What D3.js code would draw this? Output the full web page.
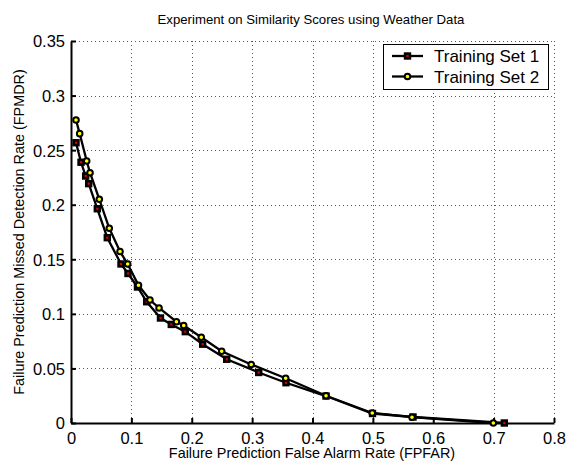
<!DOCTYPE html>
<html><head><meta charset="utf-8">
<script src="https://cdn.jsdelivr.net/npm/d3@7"></script>
<style>body{margin:0;background:#fff}svg{display:block}text{font-family:"Liberation Sans",Arial,sans-serif}</style>
</head><body>
<script>
const title = "Experiment on Similarity Scores using Weather Data";
const xLabel = "Failure Prediction False Alarm Rate (FPFAR)";
const yLabel = "Failure Prediction Missed Detection Rate (FPMDR)";
const seriesNames = ["Training Set 1", "Training Set 2"];
const xTicks = [0, 0.1, 0.2, 0.3, 0.4, 0.5, 0.6, 0.7, 0.8];
const yTicks = [0, 0.05, 0.1, 0.15, 0.2, 0.25, 0.3, 0.35];
const set1X = [0.0083,0.0166,0.0243,0.0293,0.0436,0.0601,0.0828,0.0944,0.1101,0.1254,0.1482,0.1661,0.1893,0.2181,0.2579,0.3109,0.3561,0.4224,0.4994,0.5665,0.7177];
const set1Y = [0.2568,0.2389,0.2263,0.2193,0.1963,0.1698,0.1457,0.1370,0.1246,0.1111,0.0962,0.0903,0.0837,0.0722,0.0584,0.0463,0.0369,0.0247,0.0087,0.0055,0.0];
const set2X = [0.0083,0.0144,0.0260,0.0315,0.0469,0.0634,0.0812,0.0939,0.1118,0.1308,0.1458,0.1747,0.1867,0.2158,0.2496,0.2985,0.3556,0.4224,0.4990,0.5648,0.6995];
const set2Y = [0.2776,0.2651,0.2401,0.2293,0.2050,0.1784,0.1571,0.1457,0.1262,0.1127,0.1054,0.0928,0.0893,0.0785,0.0658,0.0536,0.0410,0.0250,0.0092,0.0053,0.0];

const W = 574, H = 464;
const svg = d3.select("body").append("svg").attr("width", W).attr("height", H);
const x = d3.scaleLinear().domain([0, 0.8]).range([71, 554]);
const y = d3.scaleLinear().domain([0, 0.35]).range([423, 41]);

// grid
const grid = svg.append("g").attr("stroke", "#555").attr("stroke-width", 1).attr("stroke-dasharray", "1,3");
grid.selectAll("line.v").data(xTicks.slice(1)).join("line")
  .attr("x1", d => Math.round(x(d)) + 0.5).attr("x2", d => Math.round(x(d)) + 0.5)
  .attr("y1", y(0.35)).attr("y2", y(0));
grid.selectAll("line.h").data(yTicks.slice(1)).join("line")
  .attr("y1", d => Math.round(y(d)) + 0.5).attr("y2", d => Math.round(y(d)) + 0.5)
  .attr("x1", x(0)).attr("x2", x(0.8));

// axes
const xAxis = d3.axisBottom(x).tickValues(xTicks).tickFormat(d3.format("")).tickSizeInner(-5).tickSizeOuter(0).tickPadding(9);
const yAxis = d3.axisLeft(y).tickValues(yTicks).tickFormat(d3.format("")).tickSizeInner(-5).tickSizeOuter(0).tickPadding(6);
const gx = svg.append("g").attr("transform", `translate(0,${y(0)})`).call(xAxis);
const gy = svg.append("g").attr("transform", `translate(${x(0)},0)`).call(yAxis);
[gx, gy].forEach(g => {
  g.select(".domain").attr("stroke", "#000").attr("stroke-width", 2);
  g.selectAll(".tick line").attr("stroke", "#000").attr("stroke-width", 2);
  g.selectAll(".tick text").attr("fill", "#000").attr("font-size", 16.5).attr("font-family", '"Liberation Sans",Arial,sans-serif');
});
gy.selectAll(".tick text").attr("dy", "0.36em");

// lines
const s1 = set1X.map((v, i) => [v, set1Y[i]]);
const s2 = set2X.map((v, i) => [v, set2Y[i]]);
const line = d3.line().x(d => x(d[0])).y(d => y(d[1]));
svg.append("path").datum(s1).attr("d", line).attr("fill", "none").attr("stroke", "#000").attr("stroke-width", 2.3);
svg.append("path").datum(s2).attr("d", line).attr("fill", "none").attr("stroke", "#000").attr("stroke-width", 2.3);

// markers
svg.append("g").selectAll("rect").data(s1).join("rect")
  .attr("x", d => x(d[0]) - 2.4).attr("y", d => y(d[1]) - 2.4).attr("width", 4.8).attr("height", 4.8)
  .attr("fill", "#e00000").attr("stroke", "#000").attr("stroke-width", 2.6);
svg.append("g").selectAll("circle").data(s2).join("circle")
  .attr("cx", d => x(d[0])).attr("cy", d => y(d[1])).attr("r", 2.8)
  .attr("fill", "#ffff00").attr("stroke", "#000").attr("stroke-width", 2);

// legend
const lg = svg.append("g");
lg.append("rect").attr("x", 383.5).attr("y", 44.5).attr("width", 165).attr("height", 45)
  .attr("fill", "#fff").attr("stroke", "#000").attr("stroke-width", 1);
seriesNames.forEach((name, i) => {
  const cy = 56 + i * 20.5;
  lg.append("line").attr("x1", 392).attr("x2", 423).attr("y1", cy).attr("y2", cy).attr("stroke", "#000").attr("stroke-width", 2.3);
  if (i === 0) {
    lg.append("rect").attr("x", 407.5 - 2.4).attr("y", cy - 2.4).attr("width", 4.8).attr("height", 4.8)
      .attr("fill", "#e00000").attr("stroke", "#000").attr("stroke-width", 2.6);
  } else {
    lg.append("circle").attr("cx", 407.5).attr("cy", cy).attr("r", 2.8)
      .attr("fill", "#ffff00").attr("stroke", "#000").attr("stroke-width", 2);
  }
  lg.append("text").attr("x", 434).attr("y", cy + 6).attr("font-size", 17).text(name);
});

// title & labels
svg.append("text").attr("x", 311).attr("y", 24).attr("text-anchor", "middle").attr("font-size", 13.2).text(title);
svg.append("text").attr("x", 312).attr("y", 458).attr("text-anchor", "middle").attr("font-size", 14.4).text(xLabel);
svg.append("text").attr("transform", "translate(24,232) rotate(-90)").attr("text-anchor", "middle").attr("font-size", 14.4).text(yLabel);
</script>
</body></html>
